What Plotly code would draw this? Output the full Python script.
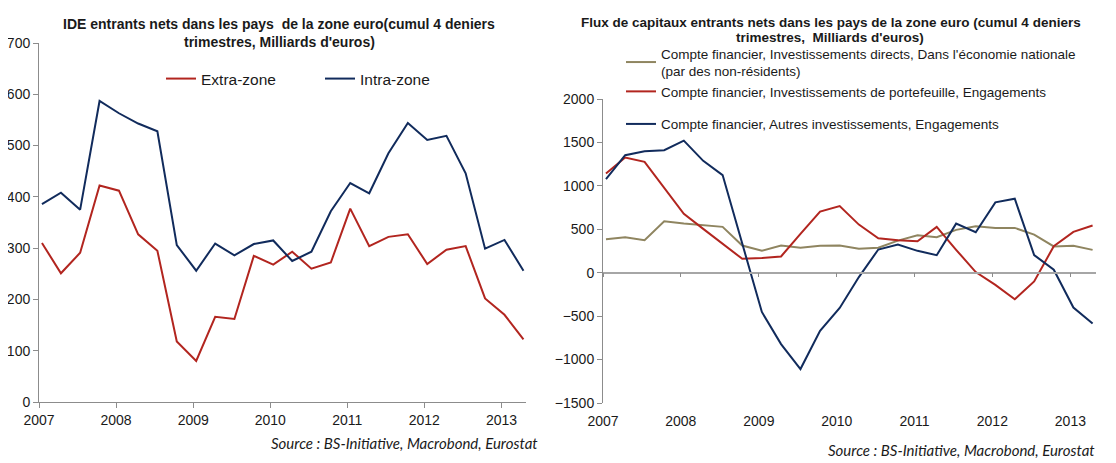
import plotly.graph_objects as go


#
# Data (cumul 4 derniers trimestres, Mds EUR)
#

QUARTERS = [
    "2007-01-15", "2007-04-15", "2007-07-15", "2007-10-15",
    "2008-01-15", "2008-04-15", "2008-07-15", "2008-10-15",
    "2009-01-15", "2009-04-15", "2009-07-15", "2009-10-15",
    "2010-01-15", "2010-04-15", "2010-07-15", "2010-10-15",
    "2011-01-15", "2011-04-15", "2011-07-15", "2011-10-15",
    "2012-01-15", "2012-04-15", "2012-07-15", "2012-10-15",
    "2013-01-15", "2013-04-15",
]

# IDE entrants nets
EXTRA_ZONE = [310, 251, 291, 422, 412, 327, 295, 118, 80, 166, 162, 285, 268,
              293, 260, 272, 377, 304, 322, 327, 269, 297, 304, 202, 170, 122]
INTRA_ZONE = [386, 408, 375, 587, 563, 543, 528, 306, 256, 309, 286, 308, 315,
              275, 293, 372, 427, 407, 485, 544, 511, 519, 446, 299, 316, 256]

# Flux de capitaux entrants nets
INV_DIRECTS = [386, 409, 375, 593, 566, 543, 528, 313, 252, 313, 287, 310, 313,
               275, 287, 370, 431, 408, 493, 535, 516, 516, 439, 302, 310, 263]
INV_PORTEFEUILLE = [1143, 1326, 1277, 982, 677, 505, 332, 160, 168, 187, 447, 703, 768,
                    554, 397, 374, 363, 528, 264, 7, -140, -306, -100, 305, 470, 543]
AUTRES_INV = [1078, 1353, 1399, 1411, 1521, 1288, 1124, 330, -452, -822, -1109, -670, -406,
              -50, 267, 325, 252, 202, 565, 466, 810, 852, 202, 34, -401, -585]

LEFT_YTICKS = [0, 100, 200, 300, 400, 500, 600, 700]
RIGHT_YTICKS = [-1500, -1000, -500, 0, 500, 1000, 1500, 2000]
YEAR_TICKS = ["2007-01-01", "2008-01-01", "2009-01-01", "2010-01-01",
              "2011-01-01", "2012-01-01", "2013-01-01"]
YEAR_LABELS = ["2007", "2008", "2009", "2010", "2011", "2012", "2013"]


#
# Styling
#

RED = "#b2251f"
NAVY = "#112b5c"
OLIVE = "#8f8560"
AXIS_GREY = "#8c8c8c"
FONT = "Liberation Sans, Arial, sans-serif"

# the page body adds an 8px margin, so the figure is a bit smaller than the window
OFF = 8
W, H = 1116 - OFF, 463 - OFF

# plot areas in window pixels (left, top, right, bottom)
LEFT_BOX = (39, 43, 526, 402)
RIGHT_BOX = (603, 99, 1096, 403)


def px(x):
    return (x - OFF) / W


def py(y):
    return 1 - (y - OFF) / H


def xdom(box):
    return [px(box[0]), px(box[2])]


def ydom(box):
    return [py(box[3]), py(box[1])]


def add_text(text, x, y, size, xanchor="center", family=FONT):
    fig.add_annotation(text=text, x=px(x), y=py(y), xref="paper", yref="paper",
                       xanchor=xanchor, yanchor="middle", showarrow=False,
                       font=dict(family=family, size=size, color="#1a1a1a"))


fig = go.Figure()

# Left chart
fig.add_trace(go.Scatter(x=QUARTERS, y=EXTRA_ZONE, name="Extra-zone", mode="lines",
                         line=dict(color=RED, width=2), xaxis="x", yaxis="y", legend="legend"))
fig.add_trace(go.Scatter(x=QUARTERS, y=INTRA_ZONE, name="Intra-zone", mode="lines",
                         line=dict(color=NAVY, width=2), xaxis="x", yaxis="y", legend="legend"))

# Right chart
fig.add_trace(go.Scatter(x=QUARTERS, y=INV_DIRECTS, mode="lines",
                         name="Compte financier, Investissements directs, Dans l'économie nationale<br>(par des non-résidents)",
                         line=dict(color=OLIVE, width=2), xaxis="x2", yaxis="y2",
                         legend="legend2", legendgroup="a"))
fig.add_trace(go.Scatter(x=QUARTERS, y=INV_PORTEFEUILLE, mode="lines",
                         name="Compte financier, Investissements de portefeuille, Engagements",
                         line=dict(color=RED, width=2), xaxis="x2", yaxis="y2",
                         legend="legend2", legendgroup="a"))
fig.add_trace(go.Scatter(x=QUARTERS, y=AUTRES_INV, mode="lines",
                         name="Compte financier, Autres investissements, Engagements",
                         line=dict(color=NAVY, width=2), xaxis="x2", yaxis="y2",
                         legend="legend2", legendgroup="b"))

tick_font = dict(family=FONT, size=14, color="#1a1a1a")

# position of the zero line of the right chart, in paper units
rd = ydom(RIGHT_BOX)
zero_pos = rd[0] + (0 - RIGHT_YTICKS[0]) / (RIGHT_YTICKS[-1] - RIGHT_YTICKS[0]) * (rd[1] - rd[0])

fig.update_layout(
    width=W, height=H,
    margin=dict(l=0, r=0, t=0, b=0, autoexpand=False),
    paper_bgcolor="white", plot_bgcolor="white",
    font=dict(family=FONT, color="#1a1a1a"),
    xaxis=dict(domain=xdom(LEFT_BOX), anchor="y", type="date", automargin=False,
               range=["2007-01-01", "2013-04-27"],
               tickvals=YEAR_TICKS, ticktext=YEAR_LABELS, tickfont=tick_font,
               showgrid=False, zeroline=False, showline=True, linecolor=AXIS_GREY,
               ticks="outside", ticklen=5, tickcolor=AXIS_GREY),
    yaxis=dict(domain=ydom(LEFT_BOX), anchor="x", range=[0, 700], automargin=False,
               tickvals=LEFT_YTICKS, tickfont=tick_font,
               showgrid=False, zeroline=False, showline=True, linecolor=AXIS_GREY,
               ticks="outside", ticklen=5, tickcolor=AXIS_GREY),
    # right chart: axis line with ticks sits on the zero level
    xaxis2=dict(domain=xdom(RIGHT_BOX), anchor="free", position=zero_pos, type="date",
                range=["2007-01-01", "2013-05-01"], automargin=False,
                tickvals=YEAR_TICKS, showticklabels=False,
                showgrid=False, zeroline=False, showline=True, linecolor="#a6a6a6", linewidth=1.5,
                ticks="outside", ticklen=4, tickcolor=AXIS_GREY),
    # labels only, at the bottom of the right chart
    xaxis3=dict(domain=xdom(RIGHT_BOX), anchor="y2", overlaying="x2", matches="x2", type="date",
                tickvals=YEAR_TICKS, ticktext=YEAR_LABELS, tickfont=tick_font, automargin=False,
                showgrid=False, zeroline=False, showline=False,
                ticks="outside", ticklen=5, tickcolor="rgba(0,0,0,0)"),
    yaxis2=dict(domain=rd, anchor="x2", range=[RIGHT_YTICKS[0], RIGHT_YTICKS[-1]], automargin=False,
                tickvals=RIGHT_YTICKS, tickfont=tick_font,
                showgrid=False, zeroline=False, showline=True, linecolor=AXIS_GREY,
                ticks="outside", ticklen=5, tickcolor=AXIS_GREY),
    legend=dict(orientation="h", x=px(161), y=py(62), xanchor="left", yanchor="top",
                font=dict(family=FONT, size=15.5), bgcolor="rgba(0,0,0,0)",
                entrywidth=114, itemwidth=30),
    legend2=dict(orientation="v", x=px(621), y=py(38), xanchor="left", yanchor="top",
                 font=dict(family=FONT, size=13.5), bgcolor="rgba(0,0,0,0)",
                 tracegroupgap=12, itemwidth=30),
)

# dummy trace so xaxis3 is drawn
fig.add_trace(go.Scatter(x=[QUARTERS[0]], y=[None], xaxis="x3", yaxis="y2",
                         showlegend=False, hoverinfo="skip"))

# Titles, one annotation per line
add_text("<b>IDE entrants nets dans les pays  de la zone euro(cumul 4 deniers</b>", 279, 24, 14)
add_text("<b>trimestres, Milliards d'euros)</b>", 279, 42, 14)
add_text("<b>Flux de capitaux entrants nets dans les pays de la zone euro (cumul 4 deniers</b>", 831, 23, 13.5)
add_text("<b>trimestres,  Milliards d'euros)</b>", 830, 37.5, 13.5)

# Sources
add_text("<i>Source : BS-Initiative, Macrobond, Eurostat</i>", 540, 443, 15, "right", "Lato, sans-serif")
add_text("<i>Source : BS-Initiative, Macrobond, Eurostat</i>", 1097, 450, 15, "right", "Lato, sans-serif")

fig.write_html("out.html")
